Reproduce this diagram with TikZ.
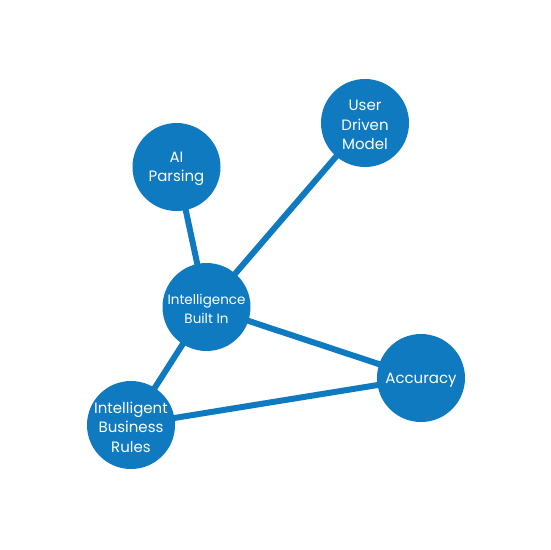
\documentclass[tikz,border=0pt]{standalone}
\usepackage{fontspec}
\setmainfont{Poppins}
\definecolor{nodeblue}{HTML}{0F7AC0}
\pgfdeclarelayer{bg}
\pgfsetlayers{bg,main}
\begin{document}
\begin{tikzpicture}[x=1pt,y=-1pt,
  hub/.style={circle,fill=nodeblue,draw=none,minimum size=88pt,inner sep=0pt},
  hubtext/.style={inner sep=0pt,text=white,align=center,yshift=-2pt,font=\fontsize{15}{19.5}\selectfont},
  link/.style={draw=nodeblue,line width=6pt}]
\useasboundingbox (0,0) rectangle (550,550);
\node[hub] (ai) at (176.5,167) {};
\node[hub] (udm) at (365,123) {};
\node[hub] (ibi) at (206.5,307) {};
\node[hub] (acc) at (421,378) {};
\node[hub] (ibr) at (131,425) {};
\node[hubtext] (ait) at (ai) {AI\\Parsing};
\node[hubtext] (udmt) at (udm) {User\\Driven\\Model};
\node[hubtext,font=\fontsize{13.5}{19.5}\selectfont] (ibit) at (ibi) {Intelligence\\Built In};
\node[hubtext] (acct) at (acc) {Accuracy};
\node[hubtext] (ibrt) at (ibr) {Intelligent\\Business\\Rules};
\begin{pgfonlayer}{bg}
\path[link] (ai.center) -- (ibi.center);
\path[link] (udm.center) -- (ibi.center);
\path[link] (ibi.center) -- (acc.center);
\path[link] (ibi.center) -- (ibr.center);
\path[link] (ibr.center) -- (acc.center);
\end{pgfonlayer}
\end{tikzpicture}
\end{document}
